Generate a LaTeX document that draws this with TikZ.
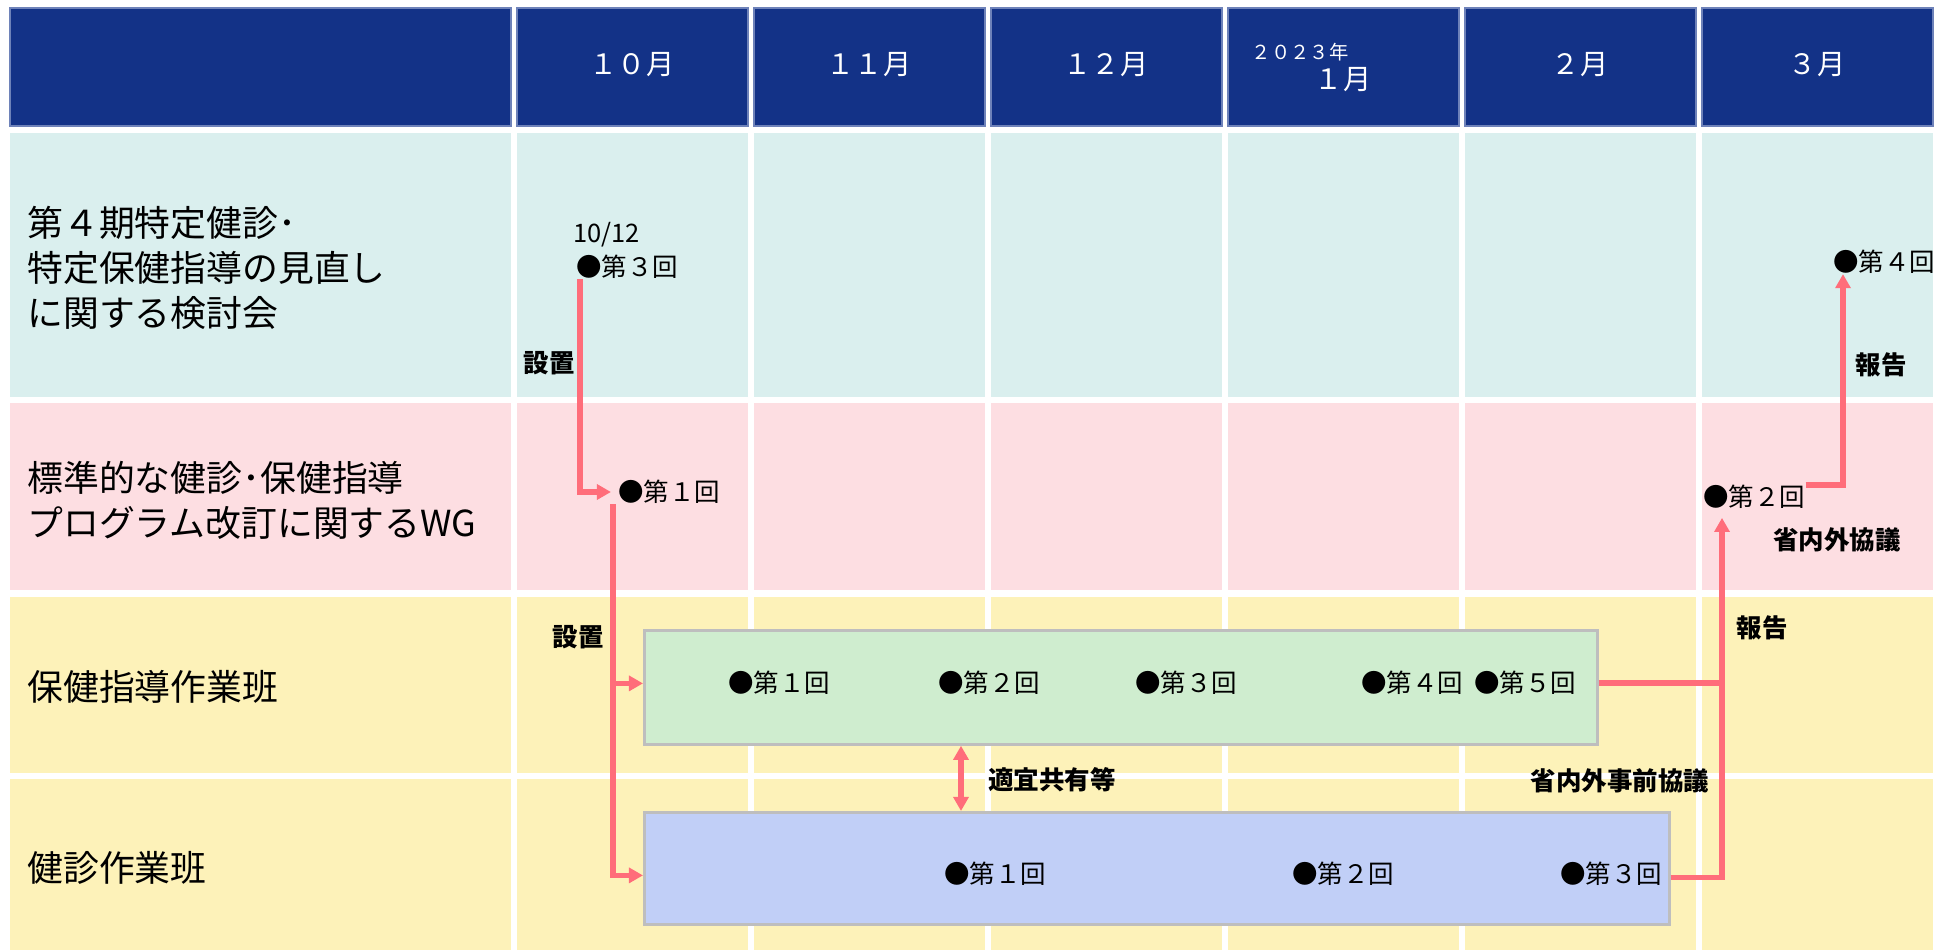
\documentclass[tikz,border=0pt]{standalone}
\usepackage{fontspec}
\setmainfont{Noto Sans CJK JP}
\usetikzlibrary{arrows.meta,calc}

\definecolor{hdrblue}{RGB}{19,50,135}
\definecolor{hdredge}{RGB}{110,130,185}
\definecolor{rowteal}{RGB}{218,239,238}
\definecolor{rowpink}{RGB}{253,222,226}
\definecolor{rowyellow}{RGB}{253,242,185}
\definecolor{boxgreen}{RGB}{207,237,207}
\definecolor{boxblue}{RGB}{193,207,247}
\definecolor{boxgray}{RGB}{190,190,190}
\definecolor{flowred}{RGB}{255,109,122}

\begin{document}
\begin{tikzpicture}[x=0.02cm,y=-0.02cm,
  every node/.style={font=\fontsize{14.5}{17}\selectfont},
  rowlabel/.style={anchor=west,align=left,inner sep=0pt,font=\fontsize{20.4}{25.5}\selectfont},
  month/.style={text=white,inner sep=0pt,font=\fontsize{16}{19}\selectfont},
  event/.style={anchor=west,inner sep=0pt},
  note/.style={inner sep=0pt,font=\bfseries\fontsize{14.5}{17}\selectfont},
  taskbox/.style={draw=boxgray,line width=1.6pt,inner sep=0pt,anchor=north west},
  flow/.style={draw=flowred,line width=3pt,-{Triangle[width=8.5pt,length=8pt]}},
  flowline/.style={draw=flowred,line width=3pt}]
  \useasboundingbox (0,0) rectangle (1935,952);

  % header
  \filldraw[fill=hdrblue,draw=hdredge,line width=0.6pt] (10,8) rectangle (511,126);
  \foreach \i in {0,...,5}
    \filldraw[fill=hdrblue,draw=hdredge,line width=0.6pt] ({517+237*\i},8) rectangle ++(231,118);

  % rows
  \foreach \ya/\yb/\c in {133/397/rowteal,403/590/rowpink,597/773/rowyellow,779/950/rowyellow} {
    \fill[\c] (10,\ya) rectangle (511,\yb);
    \foreach \i in {0,...,5}
      \fill[\c] ({517+237*\i},\ya) rectangle ++(231,\yb-\ya);
  }

  \node[month] (m10) at (632,65) {１０月};
  \node[month] (m11) at (869,65) {１１月};
  \node[month] (m12) at (1106,65) {１２月};
  \node[month,font=\fontsize{11}{13}\selectfont] (yr) at (1300,52) {２０２３年};
  \node[month] (m1) at (1343,80) {１月};
  \node[month] (m2) at (1580,65) {２月};
  \node[month] (m3) at (1817,65) {３月};

  \node[rowlabel] (kentou) at (27,268) {第４期特定健診･\\特定保健指導の見直し\\に関する検討会};
  \node[rowlabel] (wg) at (27,500) {標準的な健診･保健指導\\プログラム改訂に関するWG};
  \node[rowlabel] (hoken) at (27,687) {保健指導作業班};
  \node[rowlabel] (kenshin) at (27,868) {健診作業班};

  % work group boxes
  \node[taskbox,fill=boxgreen,minimum width=19.06cm,minimum height=2.28cm] (hokenbox) at (643,629) {};
  \node[taskbox,fill=boxblue,minimum width=20.5cm,minimum height=2.24cm] (kenshinbox) at (643,811) {};

  % meetings
  \node[event] (date) at (573,235) {10/12};
  \node[event] (ken3) at (576,267) {●第３回};
  \node[event] (ken4) at (1833,262) {●第４回};
  \node[event] (wg1) at (618,492) {●第１回};
  \node[event] (wg2) at (1703,497) {●第２回};
  \node[event] (hk1) at (728,683) {●第１回};
  \node[event] (hk2) at (938,683) {●第２回};
  \node[event] (hk3) at (1135,683) {●第３回};
  \node[event] (hk4) at (1361,683) {●第４回};
  \node[event] (hk5) at (1474,683) {●第５回};
  \node[event] (ks1) at (944,874) {●第１回};
  \node[event] (ks2) at (1292,874) {●第２回};
  \node[event] (ks3) at (1560,874) {●第３回};

  % connectors
  \draw[flow,shorten >=4pt] ($(ken3.south west)+(4,0)$) |- (wg1.west);
  \draw[flow] ($(wg1.south west)+(-5,0)$) |- ($(hokenbox.west)+(0,-4)$);
  \draw[flow] ($(wg1.south west)+(-5,0)$) |- ($(kenshinbox.west)+(0,7)$);
  \coordinate (join) at (1722,683);
  \draw[flowline] (hokenbox.east |- join) -- (join);
  \draw[flowline] ($(kenshinbox.east)+(0,9)$) -| (join);
  \draw[flow,shorten >=5pt] (join) -- (join |- wg2.south);
  \draw[flow] ($(wg2.east)+(0,-12)$) -| ($(ken4.south west)+(10,0)$);
  \draw[flow,{Triangle[width=8.5pt,length=8pt]}-{Triangle[width=8.5pt,length=8pt]}]
    ($(hokenbox.south west)+(318,0)$) -- ($(kenshinbox.north west)+(318,0)$);

  % labels
  \node[note] (setti1) at (549,363) {設置};
  \node[note] (setti2) at (578,637) {設置};
  \node[note,anchor=west] (share) at (988,780) {適宜共有等};
  \node[note] (prior) at (1620,781) {省内外事前協議};
  \node[note] (report1) at (1762,628) {報告};
  \node[note] (naigai) at (1837,540) {省内外協議};
  \node[note] (report2) at (1881,365) {報告};
\end{tikzpicture}
\end{document}
